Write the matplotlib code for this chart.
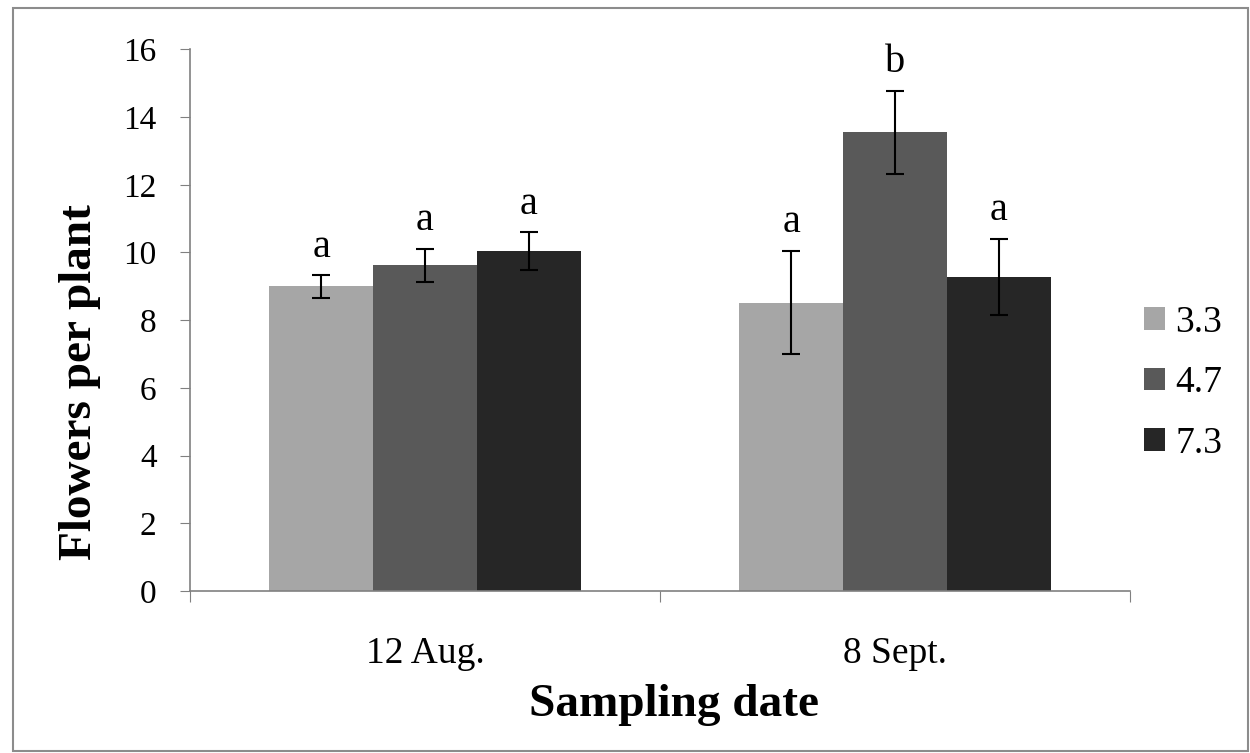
import numpy as np
import matplotlib.pyplot as plt
from matplotlib.patches import Rectangle

plt.rcParams['font.family'] = ['Liberation Serif', 'DejaVu Serif']

# data
dates = ['12 Aug.', '8 Sept.']
series = ['3.3', '4.7', '7.3']
means = {
    '3.3': [9.0, 8.52],
    '4.7': [9.62, 13.55],
    '7.3': [10.04, 9.27],
}
errors = {
    '3.3': [0.33, 1.53],
    '4.7': [0.49, 1.23],
    '7.3': [0.56, 1.13],
}
letters = {
    '3.3': ['a', 'a'],
    '4.7': ['a', 'b'],
    '7.3': ['a', 'a'],
}
colors = ['#a6a6a6', '#595959', '#262626']

fig = plt.figure(figsize=(12.5, 7.53), dpi=100)
ax = fig.add_axes([0.152, 0.215, 0.752, 0.7195])

x = np.arange(len(dates))
width = 0.221
for i, s in enumerate(series):
    pos = x + (i - 1) * width
    ax.bar(pos, means[s], width, color=colors[i], label=s, zorder=2)
    ax.errorbar(pos, means[s], yerr=errors[s], fmt='none', ecolor='black',
                elinewidth=1.5, capsize=6.5, capthick=1.5, zorder=3)
    for p, m, e, t in zip(pos, means[s], errors[s], letters[s]):
        ax.text(p, m + e + 0.55, t, ha='center', va='baseline', fontsize=29)

ax.set_xlim(-0.5, 1.5)
ax.set_ylim(0, 16)
ax.set_yticks(range(0, 17, 2))
ax.tick_params(axis='y', labelsize=24, length=7, color='#808080', pad=17)
ax.set_xticks([-0.5, 0.5, 1.5])
ax.set_xticklabels([])
ax.tick_params(axis='x', length=8, color='#808080', direction='out')
for xi, d in zip(x, dates):
    ax.text(xi, -1.85, d, ha='center', va='center', fontsize=27)

for sp in ['top', 'right']:
    ax.spines[sp].set_visible(False)
for sp in ['left', 'bottom']:
    ax.spines[sp].set_color('#808080')
    ax.spines[sp].set_linewidth(1.2)

ax.set_ylabel('Flowers per plant', fontsize=34, fontweight='bold')
ax.yaxis.set_label_coords(-0.095, 0.386)
fig.text(0.539, 0.064, 'Sampling date', ha='center', va='center', fontsize=34,
         fontweight='bold')

ax.legend(loc='center left', bbox_to_anchor=(1.015, 0.384), frameon=False,
          fontsize=27, handlelength=0.56, handleheight=0.56,
          handletextpad=0.27, labelspacing=0.7, borderpad=0, borderaxespad=0)

fig.patches.append(Rectangle((0.01, 0.003), 0.988, 0.986, transform=fig.transFigure,
                             fill=False, edgecolor='#8c8c8c', linewidth=1.5))

fig.savefig('out.png', dpi=100)
